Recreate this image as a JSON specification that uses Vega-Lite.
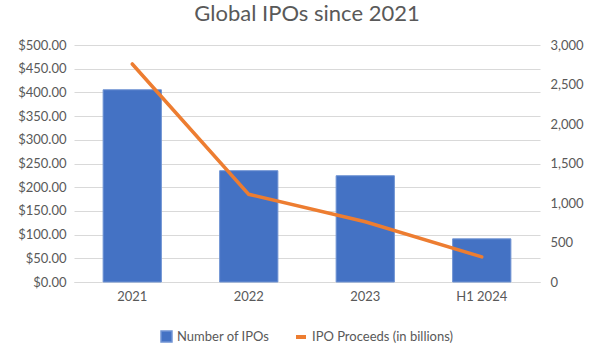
{
  "$schema": "https://vega.github.io/schema/vega-lite/v6.json",
  "width": 466,
  "height": 237,
  "autosize": {"type": "none"},
  "padding": {"left": 74, "top": 45, "right": 60, "bottom": 78},
  "background": "white",
  "title": {"text": "Global IPOs since 2021", "fontSize": 22, "font": "Lato", "fontWeight": "normal", "color": "#595959", "offset": 13, "anchor": "middle"},
  "data": {"values": [
    {"period": "2021", "ipos": 2433, "proceeds": 460},
    {"period": "2022", "ipos": 1409, "proceeds": 185},
    {"period": "2023", "ipos": 1345, "proceeds": 127},
    {"period": "H1 2024", "ipos": 546, "proceeds": 53}
  ]},
  "encoding": {
    "x": {"field": "period", "type": "nominal", "sort": null, "title": null,
      "scale": {"paddingInner": 0.5, "paddingOuter": 0.25},
      "axis": {"labelAngle": 0, "ticks": false, "domainColor": "#d9d9d9", "labelColor": "#595959", "labelFontSize": 13, "labelFont": "Lato", "labelPadding": 8}}
  },
  "layer": [
    {
      "mark": {"type": "bar", "color": "#4472C4", "stroke": "#6f93d3", "strokeWidth": 1},
      "encoding": {
        "y": {"field": "ipos", "type": "quantitative", "title": null,
          "scale": {"domain": [0, 3000]},
          "axis": {"orient": "right", "values": [0, 500, 1000, 1500, 2000, 2500, 3000], "format": ",.0f", "grid": false, "domain": false, "ticks": false, "labelColor": "#595959", "labelFontSize": 13, "labelFont": "Lato", "labelPadding": 10}},
        "color": {"datum": "Number of IPOs", "type": "nominal", "scale": {"range": ["#4472C4"]},
          "legend": {"title": null, "orient": "bottom", "symbolType": "square", "labelFontSize": 13, "labelFont": "Lato", "labelColor": "#595959", "symbolSize": 120, "offset": 27}}
      }
    },
    {
      "mark": {"type": "line", "strokeWidth": 3.5, "strokeCap": "round"},
      "encoding": {
        "y": {"field": "proceeds", "type": "quantitative", "title": null,
          "scale": {"domain": [0, 500]},
          "axis": {"orient": "left", "values": [0, 50, 100, 150, 200, 250, 300, 350, 400, 450, 500], "format": "$,.2f", "grid": true, "gridColor": "#d9d9d9", "domain": false, "ticks": false, "labelColor": "#595959", "labelFontSize": 13, "labelFont": "Lato", "labelPadding": 8}},
        "stroke": {"datum": "IPO Proceeds (in billions)", "type": "nominal", "scale": {"range": ["#ED7D31"]},
          "legend": {"title": null, "orient": "bottom", "symbolType": "stroke", "symbolStrokeWidth": 4, "labelFontSize": 13, "labelFont": "Lato", "labelColor": "#595959", "offset": 27}}
      }
    }
  ],
  "resolve": {"scale": {"y": "independent", "color": "independent", "stroke": "independent"}},
  "config": {
    "view": {"stroke": null},
    "axis": {"gridWidth": 1},
    "legend": {"layout": {"bottom": {"anchor": "middle", "direction": "horizontal", "margin": 24}}}
  }
}
